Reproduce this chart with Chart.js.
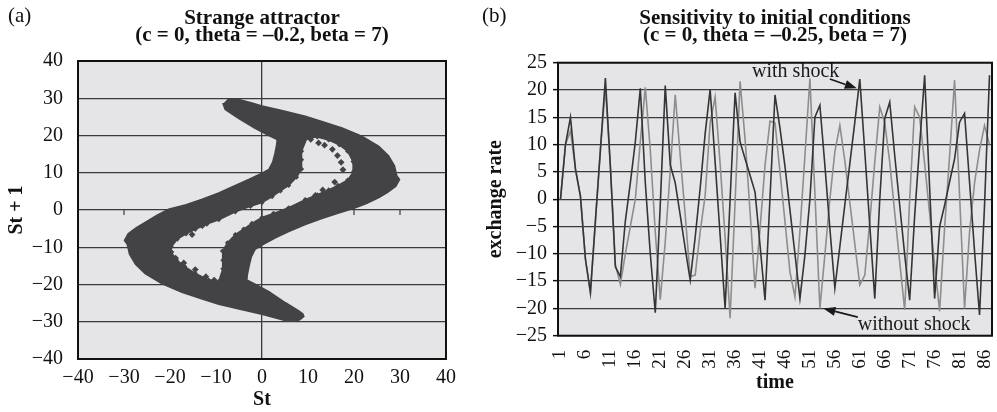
<!DOCTYPE html>
<html>
<head>
<meta charset="utf-8">
<script src="https://cdn.jsdelivr.net/npm/chart.js@4"></script>
<style>
html, body { margin: 0; padding: 0; background: #fff; }
#wrap { position: relative; width: 997px; height: 412px; overflow: hidden; }
#chartA { position: absolute; left: 0; top: 0; }
#chartB { position: absolute; left: 480px; top: 0; }
</style>
</head>
<body>
<div id="wrap">
  <canvas id="chartA" width="480" height="412"></canvas>
  <canvas id="chartB" width="517" height="412"></canvas>
</div>
<script>
// (a) strange attractor: outline of the point cloud
const outerX = [-8.4, -7.4, -5.2, -2.4, 0, 4.3, 9.4, 13.0, 17.4, 21.7, 25.4, 27.5, 28.8, 29.3, 29.9, 29.1, 27.3, 25.4,
  22.8, 20.3, 16.5, 13.0, 9.4, 5.8, 2.9, 0, -1.5, -2.3, -2.8, -3.2, -3.3,
  -1.5, 1.5, 5.1, 8.0, 8.9, 9.1, 8.2, 7.2, 5.2,
  2.4, 0, -4.3, -9.4, -13.0, -17.4, -21.7, -25.4, -27.5, -28.8, -29.3, -29.9, -29.1, -27.3, -25.4,
  -22.8, -20.3, -16.5, -13.0, -9.4, -5.8, -2.9, 0, 1.5, 2.3, 2.8, 3.2, 3.3,
  1.5, -1.5, -5.1, -8.0];
const outerY = [28.3, 29.6, 29.7, 28.8, 27.9, 26.7, 25.2, 23.8, 22.0, 19.8, 17.1, 14.6, 11.9, 9.2, 8.2, 6.4, 4.7, 3.3,
  1.8, 0.6, -0.9, -2.3, -3.9, -5.8, -7.5, -9.4, -10.6, -12.5, -15.0, -17.5, -18.8,
  -19.9, -21.9, -24.9, -27.1, -27.9, -28.6, -29.5, -29.8, -29.7,
  -28.8, -28.0, -26.8, -25.3, -23.9, -22.1, -19.8, -17.1, -14.6, -11.9, -9.2, -8.2, -6.4, -4.7, -3.3,
  -1.4, 0.2, 1.4, 2.9, 4.6, 6.6, 8.2, 9.9, 10.9, 12.8, 15.1, 17.6, 18.9,
  20.0, 21.9, 24.6, 27.0];

// empty S-shaped region inside the cloud
const holeX = [9.8, 12.0, 14.5, 16.8, 18.6, 19.8, 19.9, 18.6, 16.5, 14.5, 12.0, 9.4, 5.8, 2.5, 0, -2.2,
  -4.0, -5.8, -7.5, -8.6, -8.5, -8.5, -9.4, -11.6, -14.5, -16.8, -18.6, -19.8, -19.7, -18.4, -16.5,
  -14.5, -12.0, -9.4, -5.8, -2.5, 0, 2.2, 4.0, 5.8, 7.5, 8.6, 8.6, 8.6];
const holeY = [19.4, 19.6, 18.8, 17.5, 15.8, 13.0, 10.3, 8.0, 6.6, 5.4, 4.1, 2.8, 0.6, -0.9, -2.0, -3.6,
  -5.1, -6.6, -8.8, -11.0, -13.5, -15.8, -19.2, -18.8, -17.0, -15.2, -13.4, -11.2, -9.9, -7.8, -6.4,
  -5.2, -3.8, -2.6, -0.5, 1.0, 2.0, 3.6, 5.1, 6.6, 8.8, 11.0, 13.5, 15.8];

// loose points inside the empty region
const speckleX = [10.6, 12.3, 13.6, 15.3, 16.4, 17.2, 17.6, 15.8, 13.2, 11.6, 7.3,
  -10.4, -12.2, -14.5, -17.0, -18.8, -19.8, -15.2, -13.0, -5.1, -4.3];
const speckleY = [19.0, 18.0, 17.4, 16.3, 14.6, 12.8, 10.8, 7.5, 5.4, 3.9, 21.2,
  -18.8, -17.9, -16.0, -14.2, -12.9, -11.3, -6.6, -4.2, -11.0, -13.8];

const attractorTicks = [-40, -30, -20, -10, 0, 10, 20, 30, 40];

// (b) exchange rate over time
const timeLabels = [];
for (let t = 1; t <= 87; t++) timeLabels.push(String(t));

const withShock = [0, 10, 15, 5.5, 0.5, -11, -17, -4, 9, 22.2,
  6, -12.4, -14.2, -4, 3, 10.5, 20.3, 3, -10, -20.8,
  -1, 20.8, 6.3, 3, -2.9, -9, -14.8, -7, 2, 12,
  20.1, 6.8, -6.6, -20, 0, 19.5, 10.5, 7.4, 4.4, 1.3,
  -8.4, -18.5, 0.3, 19.1, 13, 6, -2, -10, -18.2, -10.2,
  0, 15, 17.2, 6.2, -5.4, -16.3, -8.7, -1, 6.5, 14.1,
  22, 8.7, -4.8, -18.2, 0, 14.8, 17.8, 8, -1.1, -10.2,
  -18.5, -3, 10, 22.7, 2, -18.2, -5, -1.1, 3.2, 7.4,
  14.1, 15.7, 3.1, -9.5, -21.2, -1.2, 22.7];

const withoutShock = [0, 10, 12.5, 5.5, 0.5, -11, -17.3, -4, 9, 20.5,
  6, -12, -15.6, -10, -5, 0, 10.5, 20.5, 9, -6,
  -18.4, -7.8, 5.2, 19.1, 8, -2.9, -14.2, -13.9, -6, 0.7,
  14, 18.7, 6.5, -7, -21.8, -0.5, 21.6, 11, -2.3, -16.3,
  -5.4, 6.2, 14.3, 14, 5, -4.1, -13.3, -17.9, -5.8, 8,
  22.1, 1, -20, -10.2, 0, 8.7, 13.5, 7, -0.6, -8.2,
  -15.7, -13.9, -4.1, 6.8, 16.9, 14, 6.8, -2.5, -11.5, -20.3,
  0, 16.9, 15, 6.5, -2.7, -12, -20.5, -5.2, 7.9, 21.8,
  0.7, -20, -6, 3, 9, 13.5, 10];

const rateTicks = [-25, -20, -15, -10, -5, 0, 5, 10, 15, 20, 25];

// ---- shared look ----
const SERIF = '"Liberation Serif", "Times New Roman", serif';
const PLOT_BG = '#e5e5e7';
const GRID = '#3a3a3a';
const minus = v => String(v).replace('-', '\u2212');

const plotBox = {
  id: 'plotBox',
  beforeDraw(chart, args, opts) {
    const a = chart.chartArea, ctx = chart.ctx;
    ctx.save();
    ctx.fillStyle = PLOT_BG;
    ctx.fillRect(a.left, a.top, a.right - a.left, a.bottom - a.top);
    ctx.restore();
  },
  afterDraw(chart, args, opts) {
    const a = chart.chartArea, ctx = chart.ctx;
    ctx.save();
    ctx.strokeStyle = '#111';
    ctx.lineWidth = 2;
    ctx.strokeRect(a.left, a.top, a.right - a.left, a.bottom - a.top);
    ctx.font = '21px ' + SERIF;
    ctx.fillStyle = '#111';
    ctx.textBaseline = 'alphabetic';
    ctx.fillText(opts.tag, opts.tagX, 22);
    ctx.restore();
  }
};

// small tick marks on the St+1 = 0 line
const zeroTicks = {
  id: 'zeroTicks',
  beforeDatasetsDraw(chart) {
    const xs = chart.scales.x, y0 = chart.scales.y.getPixelForValue(0), ctx = chart.ctx;
    ctx.save();
    ctx.strokeStyle = GRID;
    ctx.lineWidth = 1.2;
    attractorTicks.forEach(v => {
      const px = xs.getPixelForValue(v);
      ctx.beginPath();
      ctx.moveTo(px, y0);
      ctx.lineTo(px, y0 + 5);
      ctx.stroke();
    });
    ctx.restore();
  }
};

// ---- chart (a) ----
const ring = outerX.map((x, i) => ({x: x, y: outerY[i]}));
const holePts = holeX.map((x, i) => ({x: x, y: holeY[i]}));
const blob = ring.concat([ring[0]], holePts.slice().reverse(), [holePts[holePts.length - 1]]);
const speckles = speckleX.map((x, i) => ({x: x, y: speckleY[i]}));

const CLOUD = '#434345';

new Chart(document.getElementById('chartA'), {
  type: 'scatter',
  data: {
    datasets: [
      { data: speckles, order: 0, pointStyle: 'rectRot', pointRadius: 3.4, backgroundColor: CLOUD, borderWidth: 0 },
      { data: holePts, order: 1, pointStyle: 'rectRot', pointRadius: 2.6, backgroundColor: CLOUD, borderWidth: 0 },
      { data: blob, order: 2, showLine: true, fill: 'shape', pointRadius: 0,
        backgroundColor: CLOUD, borderColor: CLOUD, borderWidth: 1.5 }
    ]
  },
  options: {
    responsive: false,
    animation: false,
    layout: { padding: { left: 0, right: 34, top: 0, bottom: 0 } },
    plugins: {
      legend: { display: false },
      tooltip: { enabled: false },
      title: {
        display: true,
        fullSize: false,
        text: ['Strange attractor', '(c = 0, theta = \u20130.2, beta = 7)'],
        color: '#111',
        font: { family: SERIF, size: 21, weight: 'bold', lineHeight: '17px' },
        padding: { top: 10, bottom: 17 }
      },
      plotBox: { tag: '(a)', tagX: 8 }
    },
    scales: {
      x: {
        type: 'linear', min: -40, max: 40,
        afterFit: s => { s.height = 53; s.paddingLeft = 0; s.paddingRight = 0; },
        afterBuildTicks: s => { s.ticks = attractorTicks.map(v => ({value: v})); },
        ticks: { font: { family: SERIF, size: 20 }, color: '#111', padding: 7, callback: minus, maxRotation: 0 },
        grid: { drawTicks: false, lineWidth: 1.3, color: c => c.tick && c.tick.value === 0 ? GRID : 'rgba(0,0,0,0)' },
        border: { display: false },
        title: { display: true, text: 'St', color: '#111', font: { family: SERIF, size: 20, weight: 'bold' }, padding: 0 }
      },
      y: {
        type: 'linear', min: -40, max: 40,
        afterFit: s => { s.width = 78; s.paddingTop = 0; s.paddingBottom = 0; },
        afterBuildTicks: s => { s.ticks = attractorTicks.map(v => ({value: v})); },
        ticks: { font: { family: SERIF, size: 20 }, color: '#111', padding: 15, callback: minus },
        grid: { drawTicks: false, lineWidth: 1.3, color: GRID },
        border: { display: false },
        title: { display: true, text: 'St + 1', color: '#111', font: { family: SERIF, size: 20, weight: 'bold' }, padding: { top: 4.5, bottom: 0 } }
      }
    }
  },
  plugins: [plotBox, zeroTicks]
});

// ---- chart (b) ----
const arrowNotes = {
  id: 'arrowNotes',
  afterDatasetsDraw(chart, args, opts) {
    const xs = chart.scales.x, ys = chart.scales.y, ctx = chart.ctx;
    const P = p => [xs.getPixelForValue(p[0]), ys.getPixelForValue(p[1])];
    ctx.save();
    ctx.font = '20px ' + SERIF;
    ctx.fillStyle = '#1a1a1a';
    ctx.strokeStyle = '#1a1a1a';
    ctx.textBaseline = 'alphabetic';
    opts.notes.forEach(n => {
      const t = P(n.text);
      ctx.fillText(n.label, t[0], t[1]);
      const a = P(n.from), b = P(n.to);
      const ang = Math.atan2(b[1] - a[1], b[0] - a[0]);
      const hl = 12, hw = 4.5;
      const bx = b[0] - hl * Math.cos(ang), by = b[1] - hl * Math.sin(ang);
      ctx.lineWidth = 1.6;
      ctx.beginPath();
      ctx.moveTo(a[0], a[1]);
      ctx.lineTo(bx, by);
      ctx.stroke();
      ctx.beginPath();
      ctx.moveTo(b[0], b[1]);
      ctx.lineTo(bx + hw * Math.sin(ang), by - hw * Math.cos(ang));
      ctx.lineTo(bx - hw * Math.sin(ang), by + hw * Math.cos(ang));
      ctx.closePath();
      ctx.fill();
    });
    ctx.restore();
  }
};

new Chart(document.getElementById('chartB'), {
  type: 'line',
  data: {
    labels: timeLabels,
    datasets: [
      { label: 'with shock', data: withShock, order: 0, borderColor: '#353535', borderWidth: 1.6, pointRadius: 0, tension: 0, fill: false },
      { label: 'without shock', data: withoutShock, order: 1, borderColor: '#8d8d8d', borderWidth: 1.6, pointRadius: 0, tension: 0, fill: false }
    ]
  },
  options: {
    responsive: false,
    animation: false,
    layout: { padding: { left: 0, right: 5, top: 0, bottom: 0 } },
    plugins: {
      legend: { display: false },
      tooltip: { enabled: false },
      title: {
        display: true,
        fullSize: false,
        text: ['Sensitivity to initial conditions', '(c = 0, theta = \u20130.25, beta = 7)'],
        color: '#111',
        font: { family: SERIF, size: 21, weight: 'bold', lineHeight: '17px' },
        padding: { top: 10, bottom: 18.7 }
      },
      plotBox: { tag: '(b)', tagX: 2 },
      arrowNotes: {
        notes: [
          { label: 'with shock', text: [38.4, 22.4], from: [54.0, 22.0], to: [59.4, 20.3] },
          { label: 'without shock', text: [59.6, -24.0], from: [59.6, -21.6], to: [52.7, -20.0] }
        ]
      }
    },
    scales: {
      x: {
        offset: true,
        afterFit: s => { s.height = 76.3; s.paddingLeft = 0; s.paddingRight = 0; },
        ticks: {
          autoSkip: false, minRotation: 90, maxRotation: 90, padding: 14,
          font: { family: SERIF, size: 19 }, color: '#111',
          callback: function (v, i) { return i % 5 === 0 ? this.getLabelForValue(v) : ''; }
        },
        grid: { display: false, drawTicks: false },
        border: { display: false },
        title: { display: true, text: 'time', color: '#111', font: { family: SERIF, size: 20, weight: 'bold' }, padding: { top: 0, bottom: 17 } }
      },
      y: {
        min: -25, max: 25,
        afterFit: s => { s.width = 78; s.paddingTop = 0; s.paddingBottom = 0; },
        afterBuildTicks: s => { s.ticks = rateTicks.map(v => ({value: v})); },
        ticks: { font: { family: SERIF, size: 20 }, color: '#111', padding: 6, callback: minus },
        grid: { lineWidth: 1.3, color: GRID, tickLength: 5, tickColor: '#111', tickWidth: 1.5 },
        border: { display: false },
        title: { display: true, text: 'exchange rate', color: '#111', font: { family: SERIF, size: 20, weight: 'bold' }, padding: { top: 4, bottom: 0 } }
      }
    }
  },
  plugins: [plotBox, arrowNotes]
});
</script>
</body>
</html>
